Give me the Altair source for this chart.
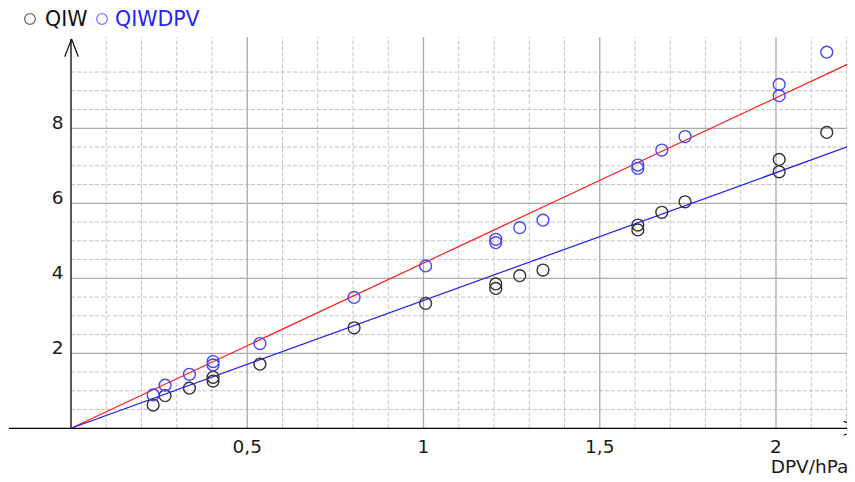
import altair as alt
import pandas as pd

# ---- data ----
dpv = [0.233, 0.267, 0.336, 0.403, 0.403, 0.536, 0.803, 1.006, 1.205, 1.205,
       1.273, 1.339, 1.608, 1.608, 1.676, 1.742, 2.009, 2.009, 2.144]
qiw = [0.62, 0.87, 1.07, 1.36, 1.26, 1.71, 2.68, 3.33, 3.85, 3.73,
       4.07, 4.22, 5.42, 5.29, 5.76, 6.04, 7.17, 6.84, 7.89]
qiwdpv = [0.89, 1.15, 1.44, 1.78, 1.69, 2.26, 3.49, 4.33, 5.04, 4.95,
          5.35, 5.55, 7.02, 6.93, 7.42, 7.78, 9.17, 8.87, 10.03]

fit_dpv = [0.0, 2.224]
fit_qiw = [0.0, 7.58]
fit_qiwdpv = [0.0, 9.80]

series_names = ["QIW", "QIWDPV"]
x_ticks = [0.5, 1.0, 1.5, 2.0]
x_tick_labels = ["0,5", "1", "1,5", "2"]
y_ticks = [2, 4, 6, 8]
y_tick_labels = ["2", "4", "6", "8"]
x_minor = [0.1, 0.2, 0.3, 0.4, 0.6, 0.7, 0.8, 0.9, 1.1, 1.2, 1.3, 1.4,
           1.6, 1.7, 1.8, 1.9, 2.1, 2.2]
y_minor = [0.5, 1, 1.5, 2.5, 3, 3.5, 4.5, 5, 5.5, 6.5, 7, 7.5, 8.5, 9, 9.5]
x_title = "DPV/hPa"

# ---- view geometry ----
W, H = 839, 468
X_DOMAIN = [-0.17872, 2.20142]
Y_DOMAIN = [(428.3 - 476) / 37.5, 11.208]
GRID_TOP = 10.435
GRID_RIGHT = 2.20142
FONT = "DejaVu Sans"

xs = alt.Scale(domain=X_DOMAIN, nice=False, zero=False)
ys = alt.Scale(domain=Y_DOMAIN, nice=False, zero=False)


def X(f):
    return alt.X(f, type="quantitative", scale=xs, axis=None)


def Y(f):
    return alt.Y(f, type="quantitative", scale=ys, axis=None)


one = pd.DataFrame({"k": [0]})

# grid
minor_v = alt.Chart(pd.DataFrame({"x": x_minor, "y0": 0.0, "y1": GRID_TOP})).mark_rule(
    color="#c4c4c4", strokeDash=[4, 2], strokeWidth=1).encode(x=X("x"), y=Y("y0"), y2="y1")
minor_h = alt.Chart(pd.DataFrame({"y": y_minor, "x0": 0.0, "x1": GRID_RIGHT})).mark_rule(
    color="#c4c4c4", strokeDash=[4, 2], strokeWidth=1).encode(y=Y("y"), x=X("x0"), x2="x1")
major_v = alt.Chart(pd.DataFrame({"x": x_ticks, "y0": 0.0, "y1": GRID_TOP})).mark_rule(
    color="#ababab", strokeWidth=1.3).encode(x=X("x"), y=Y("y0"), y2="y1")
major_h = alt.Chart(pd.DataFrame({"y": y_ticks, "x0": 0.0, "x1": GRID_RIGHT})).mark_rule(
    color="#ababab", strokeWidth=1.3).encode(y=Y("y"), x=X("x0"), x2="x1")

# axes
x_axis = alt.Chart(pd.DataFrame({"y": [0.0]})).mark_rule(color="#000000", strokeWidth=1.3).encode(
    y=Y("y"), x=alt.value(1), x2=alt.value(W))
y_axis = alt.Chart(pd.DataFrame({"x": [0.0], "y": [0.0]})).mark_rule(color="#000000", strokeWidth=1.3).encode(
    x=X("x"), y=Y("y"), y2=alt.value(31))
arrow_style = dict(color="#000000", strokeWidth=1.1)
arr1 = alt.Chart(one).mark_rule(**arrow_style).encode(
    x=alt.value(63.6), y=alt.value(31), x2=alt.value(56.7), y2=alt.value(48.7))
arr2 = alt.Chart(one).mark_rule(**arrow_style).encode(
    x=alt.value(63.6), y=alt.value(31), x2=alt.value(70.3), y2=alt.value(48.7))
arr3 = alt.Chart(one).mark_rule(**arrow_style).encode(
    x=alt.value(854), y=alt.value(420.3), x2=alt.value(835.5), y2=alt.value(413.3))
arr4 = alt.Chart(one).mark_rule(**arrow_style).encode(
    x=alt.value(854), y=alt.value(420.3), x2=alt.value(835.5), y2=alt.value(427.3))

# fit lines
red_line = alt.Chart(pd.DataFrame({"x": fit_dpv, "y": fit_qiwdpv})).mark_line(
    color="#ff1a1a", strokeWidth=1.2).encode(x=X("x"), y=Y("y"))
blue_line = alt.Chart(pd.DataFrame({"x": fit_dpv, "y": fit_qiw})).mark_line(
    color="#1a1aff", strokeWidth=1.2).encode(x=X("x"), y=Y("y"))

# points
pts = pd.DataFrame({
    "x": dpv + dpv,
    "y": qiw + qiwdpv,
    "s": [series_names[0]] * len(dpv) + [series_names[1]] * len(dpv),
})
points = alt.Chart(pts).mark_point(shape="circle", filled=False, size=140, strokeWidth=1.4, opacity=1).encode(
    x=X("x"), y=Y("y"),
    color=alt.Color("s:N", scale=alt.Scale(domain=series_names, range=["#333333", "#4646ff"]), legend=None))

# tick labels
xl = alt.Chart(pd.DataFrame({"x": x_ticks, "t": x_tick_labels})).mark_text(
    font=FONT, fontSize=18.5, align="center", baseline="middle", color="#1a1a1a").encode(
    x=X("x"), y=alt.value(439), text="t:N")
yl = alt.Chart(pd.DataFrame({"y": y_ticks, "t": y_tick_labels})).mark_text(
    font=FONT, fontSize=18.5, align="right", baseline="middle", color="#1a1a1a", dy=-5.5).encode(
    y=Y("y"), x=alt.value(55.5), text="t:N")
xt = alt.Chart(one).mark_text(
    font=FONT, fontSize=18.5, align="left", baseline="alphabetic", color="#1a1a1a", text=x_title).encode(
    x=alt.value(762.7), y=alt.value(465))

# legend
leg_c1 = alt.Chart(one).mark_point(shape="circle", filled=False, size=115, strokeWidth=1.3, color="#333333").encode(
    x=alt.value(22), y=alt.value(11))
leg_c2 = alt.Chart(one).mark_point(shape="circle", filled=False, size=115, strokeWidth=1.3, color="#4646ff").encode(
    x=alt.value(94), y=alt.value(11))
leg_t1 = alt.Chart(one).mark_text(font=FONT, fontSize=20.5, align="left", baseline="middle",
                                   color="#111111", text=series_names[0]).encode(x=alt.value(37), y=alt.value(12))
leg_t2 = alt.Chart(one).mark_text(font=FONT, fontSize=20.5, align="left", baseline="middle",
                                   color="#2323ff", text=series_names[1]).encode(x=alt.value(107), y=alt.value(12))

chart = alt.layer(
    minor_v, minor_h, major_v, major_h, x_axis, y_axis, arr1, arr2, arr3, arr4,
    red_line, blue_line, points, xl, yl, xt, leg_c1, leg_c2, leg_t1, leg_t2
).properties(
    width=W, height=H, padding=0, autosize=alt.AutoSizeParams(type="none"), background="white"
).configure_view(stroke=None)

chart.save("out.html", embed_options={"renderer": "svg", "actions": False})
